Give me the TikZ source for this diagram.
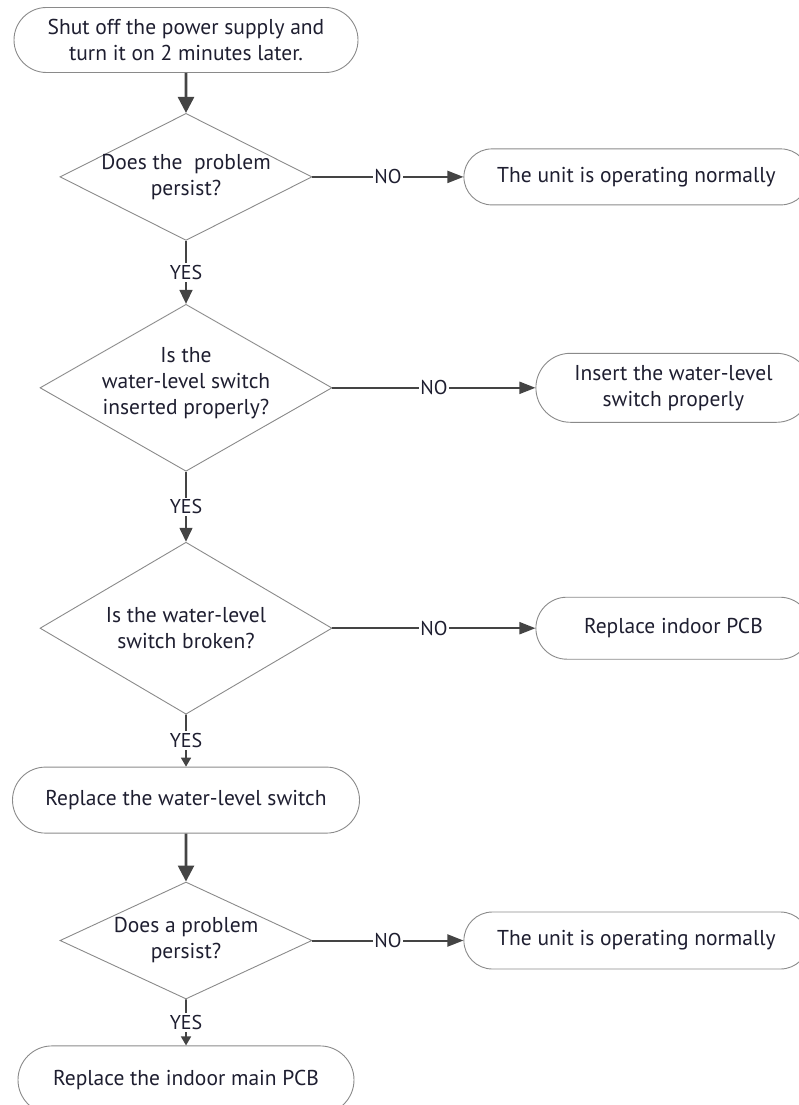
\documentclass[tikz,border=0pt]{standalone}
\usepackage{fontspec}
\setmainfont{PT Sans}
\usetikzlibrary{shapes,arrows.meta}
\usetikzlibrary{positioning}
\usepackage{xcolor}
\definecolor{linegray}{HTML}{444444}
\definecolor{edgegray}{HTML}{8A8A8A}
\definecolor{txt}{HTML}{1E1E30}

\begin{document}
\begin{tikzpicture}[x=1pt, y=1pt, node distance=40pt,
  font=\fontsize{21.5}{26}\selectfont, text=txt,
  box/.style={rounded rectangle, draw=edgegray, line width=0.9pt, align=center, inner sep=0pt},
  test/.style={diamond, draw=edgegray, line width=0.9pt, inner sep=0pt},
  qtext/.style={align=center, inner sep=0pt},
  lbl/.style={fill=white, inner sep=2pt, font=\fontsize{20}{22}\selectfont},
  flow/.style={draw=linegray, line width=2.6pt, -{Triangle[length=16pt, width=16pt]}},
  no/.style={draw=linegray, line width=2pt, -{Triangle[length=16pt, width=12pt]}},
  yes/.style={draw=linegray, line width=1.6pt, -{Triangle[length=14pt, width=13pt]}},
  yessmall/.style={draw=linegray, line width=1.6pt, -{Triangle[length=9pt, width=10pt]}}]
  \useasboundingbox (0,0) rectangle (798,-1105);

  \node[box, minimum width=344pt, minimum height=65pt] (start) at (186,-40) {Shut off the power supply and\\turn it on 2 minutes later.};
  \node[test, minimum width=252pt, minimum height=127pt] (q1) [below=40pt of start] {};
  \node[qtext] (q1t) at (q1) {Does the~~problem\\persist?};
  \node[box, minimum width=345pt, minimum height=56pt] (ok1) [right=151pt of q1] {The unit is operating normally};

  \node[test, minimum width=292pt, minimum height=167pt] (q2) [below=63pt of q1] {};
  \node[qtext] (q2t) at ([yshift=5pt]q2.center) {Is the\\water-level switch\\inserted properly?};
  \node[box, minimum width=275pt, minimum height=69pt] (fix1) [right=203pt of q2] {Insert the water-level\\switch properly};

  \node[test, minimum width=292pt, minimum height=172pt] (q3) [below=70pt of q2] {};
  \node[qtext] (q3t) at (q3) {Is the water-level\\switch broken?};
  \node[box, minimum width=275pt, minimum height=62pt] (pcb1) [right=203pt of q3] {Replace indoor PCB};

  \node[box, minimum width=347pt, minimum height=66pt] (swap) [below=52pt of q3] {Replace the water-level switch};
  \node[test, minimum width=252pt, minimum height=117pt] (q4) [below=48pt of swap] {};
  \node[qtext] (q4t) at (q4) {Does a problem\\persist?};
  \node[box, minimum width=345pt, minimum height=57pt] (ok2) [right=151pt of q4] {The unit is operating normally};
  \node[box, minimum width=336pt, minimum height=68pt] (pcb2) [below=46pt of q4] {Replace the indoor main PCB};

  \path[flow] (start) -- (q1);
  \path[no] (q1) -- node[lbl, inner sep=1pt] {NO} (ok1);
  \path[yes] (q1) -- node[lbl] {YES} (q2);
  \path[no] (q2) -- node[lbl, inner sep=1pt] {NO} (fix1);
  \path[yes] (q2) -- node[lbl] {YES} (q3);
  \path[no] (q3) -- node[lbl, inner sep=1pt] {NO} (pcb1);
  \path[yessmall] (q3) -- node[lbl] {YES} (swap);
  \path[flow] (swap) -- (q4);
  \path[no] (q4) -- node[lbl, inner sep=1pt] {NO} (ok2);
  \path[yessmall] (q4) -- node[lbl] {YES} (pcb2);
\end{tikzpicture}
\end{document}
